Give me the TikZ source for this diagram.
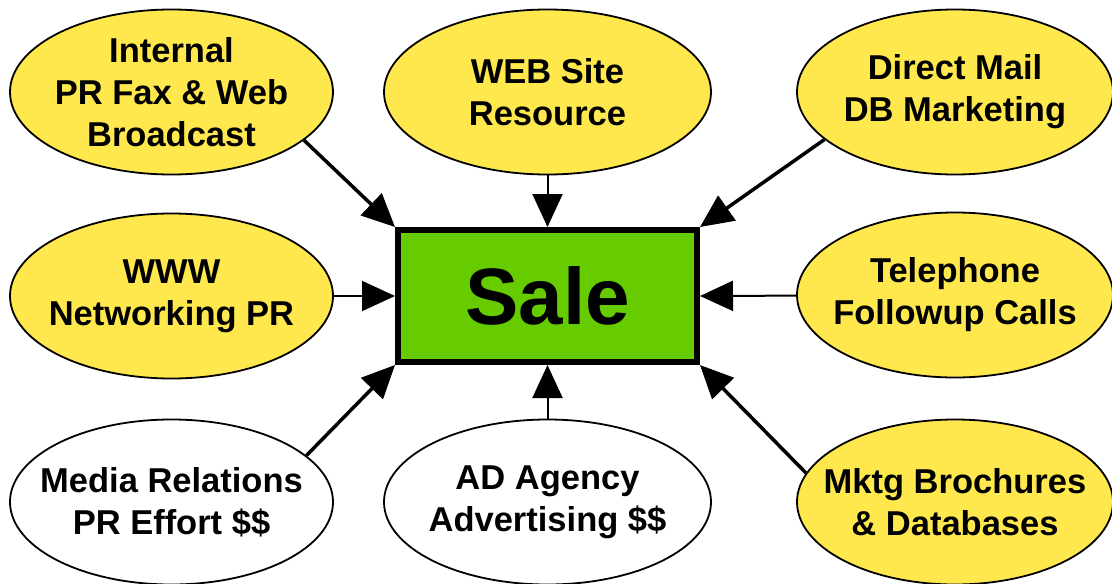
\documentclass[tikz,border=0pt]{standalone}
\usepackage{fontspec}
\setmainfont{Liberation Sans}
\usetikzlibrary{shapes.geometric,arrows.meta}
\definecolor{ellyellow}{HTML}{FFE84D}
\definecolor{salegreen}{HTML}{66CC00}
\begin{document}
\begin{tikzpicture}[x=1pt,y=-1pt,
  bubble/.style={ellipse,draw=black,line width=1.8pt,fill=ellyellow,minimum height=165pt,inner sep=0pt},
  plainbubble/.style={bubble,fill=white},
  btext/.style={font=\fontsize{34.5}{42}\selectfont\bfseries,align=center,inner sep=0pt},
  salebox/.style={rectangle,draw=black,line width=6pt,fill=salegreen,minimum width=299pt,minimum height=132pt,inner sep=0pt,font=\fontsize{80}{90}\selectfont\bfseries},
  arrs/.style={-{Triangle[length=33pt,width=30pt]},line width=2pt},
  arrd/.style={-{Triangle[length=33pt,width=30pt]},line width=3.5pt}
]
\useasboundingbox (0,0) rectangle (1112,584);
\node[salebox] (sale) at (547.5,296) {Sale};

\node[bubble,minimum width=323pt] (tl) at (171.5,92) {};
\node[btext] (tlt) at (tl) {Internal\\PR Fax \& Web\\Broadcast};
\node[bubble,minimum width=327pt] (tc) at (547.5,92) {};
\node[btext] (tct) at (tc) {WEB Site\\Resource};
\node[bubble,minimum width=316pt] (tr) at (955,92) {};
\node[btext] (trt) at (tr) {Direct Mail\\DB Marketing};

\node[bubble,minimum width=323pt] (ml) at (171.5,296) {};
\node[btext] (mlt) at (ml) {WWW\\Networking PR};
\node[bubble,minimum width=316pt] (mr) at (955,295) {};
\node[btext] (mrt) at (mr) {Telephone\\Followup Calls};

\node[plainbubble,minimum width=323pt] (bl) at (171.5,502) {};
\node[btext] (blt) at (bl) {Media Relations\\PR Effort \$\$};
\node[plainbubble,minimum width=327pt] (bc) at (547.5,502) {};
\node[btext] (bct) at (bc) {AD Agency\\Advertising \$\$};
\node[bubble,minimum width=316pt] (br) at (955,502) {};
\node[btext] (brt) at (br) {Mktg Brochures\\\& Databases};

\draw[arrd] (tl.-20) -- (sale.north west);
\draw[arrs] (tc) -- (sale.north);
\draw[arrd] (tr.200) -- (sale.north east);
\draw[arrs] (ml) -- (sale.west);
\draw[arrs] (mr) -- (sale.east);
\draw[arrd] (bl.19) -- (sale.south west);
\draw[arrs] (bc) -- (sale.south);
\draw[arrd] (br.169) -- (sale.south east);
\end{tikzpicture}
\end{document}
